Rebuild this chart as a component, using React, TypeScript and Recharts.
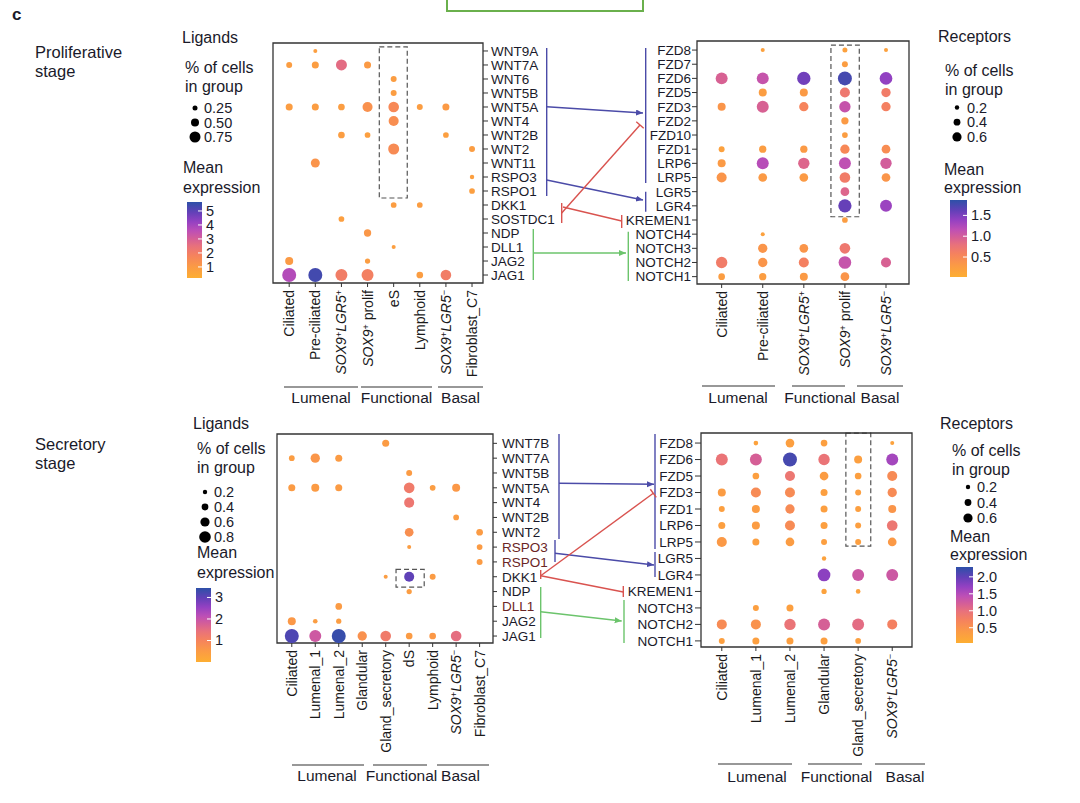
import React from 'react';
import { ScatterChart, Scatter, XAxis, YAxis, ReferenceArea } from 'recharts';

const FONT = '"Liberation Sans", Arial, Helvetica, sans-serif';

// ---------- data ----------
const prolifLigandRows = ['WNT9A', 'WNT7A', 'WNT6', 'WNT5B', 'WNT5A', 'WNT4', 'WNT2B', 'WNT2', 'WNT11', 'RSPO3', 'RSPO1', 'DKK1', 'SOSTDC1', 'NDP', 'DLL1', 'JAG2', 'JAG1'];
const prolifLigandCols = ['Ciliated', 'Pre-ciliated', 'SOX9+LGR5+', 'SOX9+ prolif', 'eS', 'Lymphoid', 'SOX9+LGR5−', 'Fibroblast_C7'];
// [col, row, fraction of cells, mean expression]
const prolifLigandDots: number[][] = [
  [1, 0, 0.17, 0.8],
  [0, 1, 0.33, 0.9], [1, 1, 0.42, 0.9], [2, 1, 0.75, 2.6], [3, 1, 0.42, 1.0],
  [4, 2, 0.33, 0.9],
  [4, 3, 0.33, 0.9],
  [0, 4, 0.42, 0.9], [1, 4, 0.42, 0.9], [2, 4, 0.39, 0.9], [3, 4, 0.67, 1.3], [4, 4, 0.72, 1.6], [5, 4, 0.33, 0.9], [6, 4, 0.42, 1.0],
  [4, 5, 0.67, 1.4],
  [2, 6, 0.39, 0.9], [3, 6, 0.31, 0.8], [6, 6, 0.31, 0.8],
  [4, 7, 0.75, 1.5], [7, 7, 0.33, 0.9],
  [1, 8, 0.58, 1.2],
  [7, 9, 0.2, 0.8],
  [7, 10, 0.31, 0.8],
  [4, 11, 0.31, 0.9], [5, 11, 0.31, 0.9],
  [2, 12, 0.31, 0.8],
  [3, 13, 0.44, 1.1],
  [4, 14, 0.17, 0.8],
  [0, 15, 0.5, 1.0], [3, 15, 0.27, 0.9],
  [0, 16, 1.0, 3.7], [1, 16, 1.0, 5.3], [2, 16, 0.83, 2.0], [3, 16, 0.83, 1.9], [5, 16, 0.39, 0.9], [6, 16, 0.72, 2.0],
];

const prolifReceptorRows = ['FZD8', 'FZD7', 'FZD6', 'FZD5', 'FZD3', 'FZD2', 'FZD10', 'FZD1', 'LRP6', 'LRP5', 'LGR5', 'LGR4', 'KREMEN1', 'NOTCH4', 'NOTCH3', 'NOTCH2', 'NOTCH1'];
const prolifReceptorCols = ['Ciliated', 'Pre-ciliated', 'SOX9+LGR5+', 'SOX9+ prolif', 'SOX9+LGR5−'];
const prolifReceptorDots: number[][] = [
  [1, 0, 0.17, 0.2], [3, 0, 0.25, 0.2], [4, 0, 0.17, 0.2],
  [3, 1, 0.33, 0.25],
  [0, 2, 0.83, 0.95], [1, 2, 0.83, 1.1], [2, 2, 0.94, 1.55], [3, 2, 1.0, 1.75], [4, 2, 0.89, 1.4],
  [1, 3, 0.5, 0.25], [2, 3, 0.5, 0.3], [3, 3, 0.67, 0.7], [4, 3, 0.61, 0.65],
  [0, 4, 0.5, 0.35], [1, 4, 0.83, 0.95], [2, 4, 0.61, 0.55], [3, 4, 0.78, 1.1], [4, 4, 0.61, 0.6],
  [3, 5, 0.44, 0.3],
  [3, 6, 0.31, 0.25],
  [0, 7, 0.33, 0.2], [1, 7, 0.44, 0.25], [2, 7, 0.44, 0.3], [3, 7, 0.61, 0.5], [4, 7, 0.56, 0.45],
  [0, 8, 0.5, 0.3], [1, 8, 0.83, 1.2], [2, 8, 0.78, 0.9], [3, 8, 0.83, 1.15], [4, 8, 0.78, 1.0],
  [0, 9, 0.67, 0.35], [1, 9, 0.56, 0.3], [2, 9, 0.56, 0.3], [3, 9, 0.72, 0.65], [4, 9, 0.56, 0.35],
  [3, 10, 0.56, 0.9],
  [3, 11, 0.94, 1.6], [4, 11, 0.83, 1.35],
  [3, 12, 0.31, 0.25],
  [1, 13, 0.17, 0.2],
  [1, 14, 0.61, 0.35], [2, 14, 0.56, 0.35], [3, 14, 0.72, 0.7],
  [0, 15, 0.78, 0.65], [1, 15, 0.61, 0.35], [2, 15, 0.67, 0.6], [3, 15, 0.89, 1.1], [4, 15, 0.67, 0.95],
  [0, 16, 0.39, 0.25], [1, 16, 0.44, 0.25], [2, 16, 0.5, 0.3], [3, 16, 0.56, 0.35],
];

const secLigandRows = ['WNT7B', 'WNT7A', 'WNT5B', 'WNT5A', 'WNT4', 'WNT2B', 'WNT2', 'RSPO3', 'RSPO1', 'DKK1', 'NDP', 'DLL1', 'JAG2', 'JAG1'];
const secLigandCols = ['Ciliated', 'Lumenal_1', 'Lumenal_2', 'Glandular', 'Gland_secretory', 'dS', 'Lymphoid', 'SOX9+LGR5−', 'Fibroblast_C7'];
const secLigandDots: number[][] = [
  [4, 0, 0.42, 0.5],
  [0, 1, 0.31, 0.45], [1, 1, 0.61, 0.6], [2, 1, 0.42, 0.5],
  [5, 2, 0.33, 0.5],
  [0, 3, 0.42, 0.5], [1, 3, 0.5, 0.5], [2, 3, 0.42, 0.5], [5, 3, 0.72, 1.2], [6, 3, 0.31, 0.45], [7, 3, 0.5, 0.55],
  [5, 4, 0.67, 1.3],
  [7, 5, 0.31, 0.45],
  [5, 6, 0.56, 0.75], [8, 6, 0.39, 0.5],
  [5, 7, 0.17, 0.45], [8, 7, 0.31, 0.5],
  [8, 8, 0.33, 0.5],
  [4, 9, 0.17, 0.45], [5, 9, 0.67, 3.0], [6, 9, 0.33, 0.5],
  [5, 10, 0.27, 0.45],
  [2, 11, 0.39, 0.5],
  [0, 12, 0.5, 0.55], [1, 12, 0.22, 0.45], [2, 12, 0.27, 0.45],
  [0, 13, 1.0, 3.15], [1, 13, 0.83, 1.9], [2, 13, 1.0, 3.35], [3, 13, 0.61, 0.7], [4, 13, 0.72, 1.2], [5, 13, 0.39, 0.5], [6, 13, 0.39, 0.55], [7, 13, 0.72, 1.5],
];

const secReceptorRows = ['FZD8', 'FZD6', 'FZD5', 'FZD3', 'FZD1', 'LRP6', 'LRP5', 'LGR5', 'LGR4', 'KREMEN1', 'NOTCH3', 'NOTCH2', 'NOTCH1'];
const secReceptorCols = ['Ciliated', 'Lumenal_1', 'Lumenal_2', 'Glandular', 'Gland_secretory', 'SOX9+LGR5−'];
const secReceptorDots: number[][] = [
  [1, 0, 0.22, 0.25], [2, 0, 0.56, 0.3], [3, 0, 0.39, 0.3], [5, 0, 0.17, 0.25],
  [0, 1, 0.83, 0.95], [1, 1, 0.83, 1.2], [2, 1, 1.0, 2.15], [3, 1, 0.78, 0.95], [4, 1, 0.5, 0.3], [5, 1, 0.83, 1.6],
  [1, 2, 0.39, 0.3], [2, 2, 0.67, 0.9], [3, 2, 0.56, 0.35], [4, 2, 0.39, 0.3], [5, 2, 0.67, 0.6],
  [0, 3, 0.5, 0.35], [1, 3, 0.67, 0.6], [2, 3, 0.67, 0.6], [3, 3, 0.42, 0.3], [4, 3, 0.33, 0.3], [5, 3, 0.61, 0.6],
  [0, 4, 0.33, 0.3], [1, 4, 0.5, 0.35], [2, 4, 0.61, 0.6], [3, 4, 0.42, 0.3], [4, 4, 0.33, 0.3], [5, 4, 0.5, 0.45],
  [0, 5, 0.42, 0.3], [1, 5, 0.5, 0.35], [2, 5, 0.67, 0.6], [3, 5, 0.42, 0.3], [4, 5, 0.33, 0.3], [5, 5, 0.72, 0.9],
  [0, 6, 0.67, 0.4], [1, 6, 0.42, 0.3], [2, 6, 0.56, 0.35], [3, 6, 0.33, 0.3], [4, 6, 0.33, 0.3], [5, 6, 0.56, 0.4],
  [3, 7, 0.2, 0.25],
  [3, 8, 0.89, 1.75], [4, 8, 0.83, 1.3], [5, 8, 0.83, 1.3],
  [3, 9, 0.27, 0.25], [4, 9, 0.22, 0.25],
  [1, 10, 0.33, 0.3], [2, 10, 0.42, 0.3],
  [0, 11, 0.67, 0.6], [1, 11, 0.67, 0.5], [2, 11, 0.78, 0.95], [3, 11, 0.83, 1.2], [4, 11, 0.83, 1.05], [5, 11, 0.67, 0.75],
  [0, 12, 0.33, 0.3], [1, 12, 0.42, 0.3], [2, 12, 0.42, 0.3], [3, 12, 0.42, 0.3], [4, 12, 0.31, 0.3],
];

const groupNames = ['Lumenal', 'Functional', 'Basal'];
const ligandSizeLegendProlif = [0.25, 0.5, 0.75];
const receptorSizeLegendProlif = [0.2, 0.4, 0.6];
const ligandSizeLegendSec = [0.2, 0.4, 0.6, 0.8];
const receptorSizeLegendSec = [0.2, 0.4, 0.6];
const ligandColorTicksProlif = [1, 2, 3, 4, 5];
const receptorColorTicksProlif = [0.5, 1.0, 1.5];
const ligandColorTicksSec = [1, 2, 3];
const receptorColorTicksSec = [0.5, 1.0, 1.5, 2.0];

// ---------- colour / size ----------
const STOPS: [number, string][] = [
  [0, '#fdae32'], [0.15, '#fb9a45'], [0.3, '#f5825e'], [0.42, '#e8717c'], [0.52, '#d45e98'],
  [0.62, '#bd4fb6'], [0.74, '#9441c2'], [0.86, '#6440b8'], [1, '#2d50a8'],
];
const hex = (h: string) => [1, 3, 5].map((i) => parseInt(h.slice(i, i + 2), 16));
function cmap(t: number) {
  t = Math.max(0, Math.min(1, t));
  for (let i = 0; i < STOPS.length - 1; i++) {
    const [t0, c0] = STOPS[i];
    const [t1, c1] = STOPS[i + 1];
    if (t <= t1) {
      const a = (t - t0) / (t1 - t0);
      const A = hex(c0), B = hex(c1);
      return `rgb(${A.map((v, k) => Math.round(v + (B[k] - v) * a)).join(',')})`;
    }
  }
  return STOPS[STOPS.length - 1][1];
}
const radius = (f: number) => 1 + 6 * f;

const X_FONT = 14;
const Y_FONT = 13.5;

// ---------- label rendering ----------
function richLabel(s: string) {
  const parts: React.ReactNode[] = [];
  if (s.startsWith('SOX9')) {
    parts.push(<tspan key="a" fontStyle="italic">SOX9</tspan>);
    parts.push(<tspan key="b" dy={-4} fontSize={9}>{s[4]}</tspan>);
    const rest = s.slice(5);
    if (rest.startsWith('LGR5')) {
      parts.push(<tspan key="c" dy={4} fontStyle="italic">LGR5</tspan>);
      parts.push(<tspan key="d" dy={-4} fontSize={9}>{rest[4]}</tspan>);
    } else {
      parts.push(<tspan key="c" dy={4}>{rest}</tspan>);
    }
    return parts;
  }
  return s;
}

type Box = { left: number; top: number; w: number; h: number };
type PanelProps = {
  rows: string[];
  cols: string[];
  dots: number[][];
  lo: number;
  hi: number;
  box: Box;
  xDom: [number, number];
  yDom: [number, number];
  side: 'left' | 'right';
  tickSize: number;
  tickMargin: number;
  dash: [number, number, number, number];
  rowColors?: Record<string, string>;
};

const YW = 95;
const XH = 115;
const M = 4;

function DotPanel(p: PanelProps) {
  const data = p.dots.map(([x, y, f, e]) => ({ x, y, f, e }));
  const left = p.side === 'right' ? p.box.left - M : p.box.left - M - YW;
  const width = p.box.w + YW + 2 * M;
  const height = p.box.h + XH + 2 * M;
  return (
    <div style={{ position: 'absolute', left, top: p.box.top - M }}>
      <ScatterChart width={width} height={height} margin={{ top: M, right: M, bottom: M, left: M }}>
        <XAxis
          type="number"
          dataKey="x"
          domain={p.xDom}
          ticks={p.cols.map((_, i) => i)}
          interval={0}
          allowDataOverflow
          axisLine={false}
          tickLine={{ stroke: '#333' }}
          tickSize={4}
          tickMargin={3}
          height={XH}
          tick={(t: any) => (
            <g transform={`translate(${t.x},${t.y}) rotate(-90)`}>
              <text x={0} y={0} dy="0.36em" textAnchor="end" fontSize={X_FONT} fill="#1a1a1a" fontFamily={FONT}>
                {richLabel(p.cols[t.payload.value])}
              </text>
            </g>
          )}
        />
        <YAxis
          type="number"
          dataKey="y"
          orientation={p.side}
          reversed
          domain={p.yDom}
          ticks={p.rows.map((_, i) => i)}
          interval={0}
          allowDataOverflow
          axisLine={false}
          tickLine={{ stroke: '#333' }}
          tickSize={p.tickSize}
          tickMargin={p.tickMargin}
          width={YW}
          tick={(t: any) => {
            const name = p.rows[t.payload.value];
            return (
              <text
                x={t.x}
                y={t.y}
                dy="0.36em"
                textAnchor={p.side === 'right' ? 'start' : 'end'}
                fontSize={Y_FONT}
                fill={(p.rowColors && p.rowColors[name]) || '#1a1a2a'}
                fontFamily={FONT}
              >
                {name}
              </text>
            );
          }}
        />
        <Scatter
          data={data}
          isAnimationActive={false}
          shape={(s: any) => (
            <circle
              cx={s.cx}
              cy={s.cy}
              r={radius(s.payload.f)}
              fill={cmap((s.payload.e - p.lo) / (p.hi - p.lo))}
            />
          )}
        />
        <ReferenceArea
          x1={p.dash[0]}
          x2={p.dash[1]}
          y1={p.dash[2]}
          y2={p.dash[3]}
          fill="none"
          stroke="#555"
          strokeWidth={1.2}
          strokeDasharray="5 3"
          ifOverflow="visible"
        />
        <ReferenceArea
          x1={p.xDom[0]}
          x2={p.xDom[1]}
          y1={p.yDom[0]}
          y2={p.yDom[1]}
          fill="none"
          stroke="#333"
          strokeWidth={1.3}
          ifOverflow="visible"
        />
      </ScatterChart>
    </div>
  );
}

// ---------- overlay helpers ----------
const BLUE = '#4b4ba8';
const RED = '#d9534f';
const GREEN = '#6cc46c';
const LEG_FONT = 16;

function Txt(props: { x: number; y: number; s: string; size?: number; anchor?: string; weight?: string; fill?: string }) {
  return (
    <text
      x={props.x}
      y={props.y}
      fontSize={props.size || LEG_FONT}
      textAnchor={(props.anchor as any) || 'start'}
      fontWeight={props.weight || 'normal'}
      fill={props.fill || '#1a1a2a'}
      fontFamily={FONT}
    >
      {props.s}
    </text>
  );
}

function TCap({ x1, y1, x2, y2, len = 10 }: { x1: number; y1: number; x2: number; y2: number; len?: number }) {
  const dx = x2 - x1, dy = y2 - y1;
  const L = Math.hypot(dx, dy);
  const px = -dy / L, py = dx / L;
  return (
    <g stroke={RED} strokeWidth={1.4}>
      <line x1={x1} y1={y1} x2={x2} y2={y2} />
      <line x1={x2 + px * len / 2} y1={y2 + py * len / 2} x2={x2 - px * len / 2} y2={y2 - py * len / 2} />
    </g>
  );
}

function VLine({ x, y1, y2, c }: { x: number; y1: number; y2: number; c: string }) {
  return <line x1={x} y1={y1} x2={x} y2={y2} stroke={c} strokeWidth={1.4} />;
}
function Arrow({ x1, y1, x2, y2, c, m }: { x1: number; y1: number; x2: number; y2: number; c: string; m: string }) {
  return <line x1={x1} y1={y1} x2={x2} y2={y2} stroke={c} strokeWidth={1.4} markerEnd={`url(#${m})`} />;
}

function SizeLegend({ x, y, vals, dotX, labelX, y0, step, fmt }: any) {
  return (
    <g>
      <Txt x={x} y={y} s="% of cells" />
      <Txt x={x} y={y + 19} s="in group" />
      {vals.map((v: number, i: number) => (
        <g key={i}>
          <circle cx={dotX} cy={y0 + i * step} r={radius(v)} fill="#000" />
          <Txt x={labelX} y={y0 + i * step + 5} s={fmt(v)} size={14.5} />
        </g>
      ))}
    </g>
  );
}

function ColorBar({ x, y, w, h, lo, hi, ticks, fmt }: any) {
  const yOf = (v: number) => y + h - ((v - lo) / (hi - lo)) * h;
  return (
    <g>
      <rect x={x} y={y} width={w} height={h} fill="url(#cmgrad)" />
      {ticks.map((v: number, i: number) => (
        <g key={i}>
          <line x1={x + w - 4} x2={x + w} y1={yOf(v)} y2={yOf(v)} stroke="#fff" strokeWidth={1} />
          <Txt x={x + w + 4} y={yOf(v) + 5} s={fmt(v)} size={14.5} />
        </g>
      ))}
    </g>
  );
}

function Groups({ y, lines, labels, ty }: { y: number; lines: number[][]; labels: number[]; ty: number }) {
  return (
    <g>
      {lines.map((l, i) => (
        <line key={i} x1={l[0]} x2={l[1]} y1={y} y2={y} stroke="#333" strokeWidth={1.2} />
      ))}
      {labels.map((cx, i) => (
        <Txt key={'t' + i} x={cx} y={ty} s={groupNames[i]} anchor="middle" size={15.5} />
      ))}
    </g>
  );
}

export default function App() {
  return (
    <div style={{ position: 'absolute', left: 0, top: 0, width: 1080, height: 803, background: '#fff', fontFamily: FONT }}>
      <DotPanel
        rows={prolifLigandRows}
        cols={prolifLigandCols}
        dots={prolifLigandDots}
        lo={0.2}
        hi={5.6}
        box={{ left: 273, top: 43, w: 210, h: 240 }}
        xDom={[-0.62, 7.42]}
        yDom={[-0.57, 16.57]}
        side="right"
        tickSize={5}
        tickMargin={3}
        dash={[3.45, 4.52, -0.3, 10.5]}
      />
      <DotPanel
        rows={prolifReceptorRows}
        cols={prolifReceptorCols}
        dots={prolifReceptorDots}
        lo={0.02}
        hi={1.87}
        box={{ left: 697, top: 41, w: 212, h: 243 }}
        xDom={[-0.6, 4.56]}
        yDom={[-0.64, 16.52]}
        side="left"
        tickSize={5}
        tickMargin={1}
        dash={[2.66, 3.35, -0.35, 11.77]}
      />
      <DotPanel
        rows={secLigandRows}
        cols={secLigandCols}
        dots={secLigandDots}
        lo={0}
        hi={3.44}
        box={{ left: 277, top: 434, w: 216, h: 209 }}
        xDom={[-0.63, 8.57]}
        yDom={[-0.63, 13.47]}
        side="right"
        tickSize={4}
        tickMargin={5}
        dash={[4.44, 5.64, 8.5, 9.7]}
        rowColors={{ RSPO3: '#6b2525', RSPO1: '#6b2525', DLL1: '#6b2525' }}
      />
      <DotPanel
        rows={secReceptorRows}
        cols={secReceptorCols}
        dots={secReceptorDots}
        lo={0.05}
        hi={2.29}
        box={{ left: 701, top: 433, w: 211, h: 214 }}
        xDom={[-0.61, 5.58]}
        yDom={[-0.61, 12.37]}
        side="left"
        tickSize={6}
        tickMargin={2}
        dash={[3.64, 4.37, -0.6, 6.25]}
      />

      <svg width={1080} height={803} style={{ position: 'absolute', left: 0, top: 0, pointerEvents: 'none' }}>
        <defs>
          <linearGradient id="cmgrad" x1="0" y1="1" x2="0" y2="0">
            {STOPS.map(([t, c]) => (
              <stop key={t} offset={t} stopColor={c} />
            ))}
          </linearGradient>
          <marker id="mb" markerWidth="8" markerHeight="8" refX="7" refY="3" orient="auto" markerUnits="userSpaceOnUse">
            <path d="M0,0 L7,3 L0,6 z" fill={BLUE} />
          </marker>
          <marker id="mg" markerWidth="8" markerHeight="8" refX="7" refY="3" orient="auto" markerUnits="userSpaceOnUse">
            <path d="M0,0 L7,3 L0,6 z" fill={GREEN} />
          </marker>
        </defs>

        {/* top green frame */}
        <polyline points="447,0 447,11 643,11 643,0" fill="none" stroke="#6ab04c" strokeWidth={2} />

        <Txt x={12} y={20} s="c" size={17} weight="bold" />
        <Txt x={35} y={58} s="Proliferative" size={16.5} />
        <Txt x={35} y={77} s="stage" size={16.5} />
        <Txt x={35} y={450} s="Secretory" size={16.5} />
        <Txt x={35} y={469} s="stage" size={16.5} />

        {/* proliferative ligand legend */}
        <Txt x={182} y={43} s="Ligands" />
        <SizeLegend x={185} y={73} vals={ligandSizeLegendProlif} dotX={195} labelX={204} y0={108} step={14.5} fmt={(v: number) => v.toFixed(2)} />
        <Txt x={183} y={173} s="Mean" />
        <Txt x={183} y={193} s="expression" />
        <ColorBar x={187} y={202} w={15} h={76} lo={0.21} hi={5.64} ticks={ligandColorTicksProlif} fmt={(v: number) => String(v)} />

        {/* proliferative receptor legend */}
        <Txt x={938} y={42} s="Receptors" />
        <SizeLegend x={945} y={76} vals={receptorSizeLegendProlif} dotX={957} labelX={967} y0={107.5} step={14.7} fmt={(v: number) => v.toFixed(1)} />
        <Txt x={944} y={175} s="Mean" />
        <Txt x={944} y={193} s="expression" />
        <ColorBar x={950} y={200} w={17} h={77} lo={0.02} hi={1.87} ticks={receptorColorTicksProlif} fmt={(v: number) => v.toFixed(1)} />

        {/* secretory ligand legend */}
        <Txt x={193} y={429} s="Ligands" />
        <SizeLegend x={197} y={454} vals={ligandSizeLegendSec} dotX={205} labelX={214} y0={492} step={15} fmt={(v: number) => v.toFixed(1)} />
        <Txt x={197} y={558} s="Mean" />
        <Txt x={197} y={578} s="expression" />
        <ColorBar x={196} y={588} w={15} h={74} lo={0} hi={3.44} ticks={ligandColorTicksSec} fmt={(v: number) => String(v)} />

        {/* secretory receptor legend */}
        <Txt x={940} y={429} s="Receptors" />
        <SizeLegend x={952} y={456} vals={receptorSizeLegendSec} dotX={968} labelX={977} y0={487} step={15.5} fmt={(v: number) => v.toFixed(1)} />
        <Txt x={950} y={542} s="Mean" />
        <Txt x={950} y={560} s="expression" />
        <ColorBar x={956} y={567} w={17} h={76} lo={0.05} hi={2.29} ticks={receptorColorTicksSec} fmt={(v: number) => v.toFixed(1)} />

        {/* group labels */}
        <Groups y={387} lines={[[284, 358], [361, 432], [438, 483]]} labels={[321, 396.5, 460.5]} ty={403} />
        <Groups y={386} lines={[[702, 775], [792, 845], [857, 903]]} labels={[738, 820, 880]} ty={403} />
        <Groups y={765} lines={[[292, 364], [373, 427], [437, 489]]} labels={[327, 401.5, 460.5]} ty={781} />
        <Groups y={764} lines={[[718, 792], [808, 862], [875, 925]]} labels={[757, 836.5, 905]} ty={782} />

        {/* proliferative interactions */}
        <VLine x={546.7} y1={48} y2={196} c={BLUE} />
        <Arrow x1={546.7} y1={106.7} x2={643} y2={113} c={BLUE} m="mb" />
        <VLine x={645.7} y1={48} y2={183} c={BLUE} />
        <VLine x={645.7} y1={191.7} y2={211.7} c={BLUE} />
        <Arrow x1={546.7} y1={180} x2={643} y2={200} c={BLUE} m="mb" />
        <VLine x={561.7} y1={203} y2={223} c={RED} />
        <TCap x1={561.7} y1={213} x2={640} y2={125} />
        <line x1={563} y1={207} x2={621.7} y2={221} stroke={RED} strokeWidth={1.4} />
        <VLine x={621.7} y1={215} y2={228} c={RED} />
        <VLine x={533.3} y1={229} y2={280} c={GREEN} />
        <Arrow x1={533.3} y1={253} x2={626} y2={253} c={GREEN} m="mg" />
        <VLine x={628.3} y1={231.7} y2={281} c={GREEN} />

        {/* secretory interactions */}
        <VLine x={559} y1={434} y2={539} c={BLUE} />
        <Arrow x1={559} y1={483.3} x2={654} y2={484.3} c={BLUE} m="mb" />
        <VLine x={655} y1={434} y2={549} c={BLUE} />
        <VLine x={655} y1={552} y2={577} c={BLUE} />
        <VLine x={555} y1={540} y2={562} c={BLUE} />
        <Arrow x1={555} y1={553.3} x2={654} y2={565} c={BLUE} m="mb" />
        <VLine x={540.7} y1={570} y2={579} c={RED} />
        <TCap x1={540.7} y1={575.7} x2={653.3} y2={493.3} />
        <line x1={540.7} y1={575.7} x2={623.3} y2={592} stroke={RED} strokeWidth={1.4} />
        <VLine x={623.3} y1={586} y2={597} c={RED} />
        <VLine x={540.7} y1={587} y2={638} c={GREEN} />
        <Arrow x1={540.7} y1={611.7} x2={621.7} y2={621} c={GREEN} m="mg" />
        <VLine x={624} y1={600} y2={643} c={GREEN} />
      </svg>
    </div>
  );
}
